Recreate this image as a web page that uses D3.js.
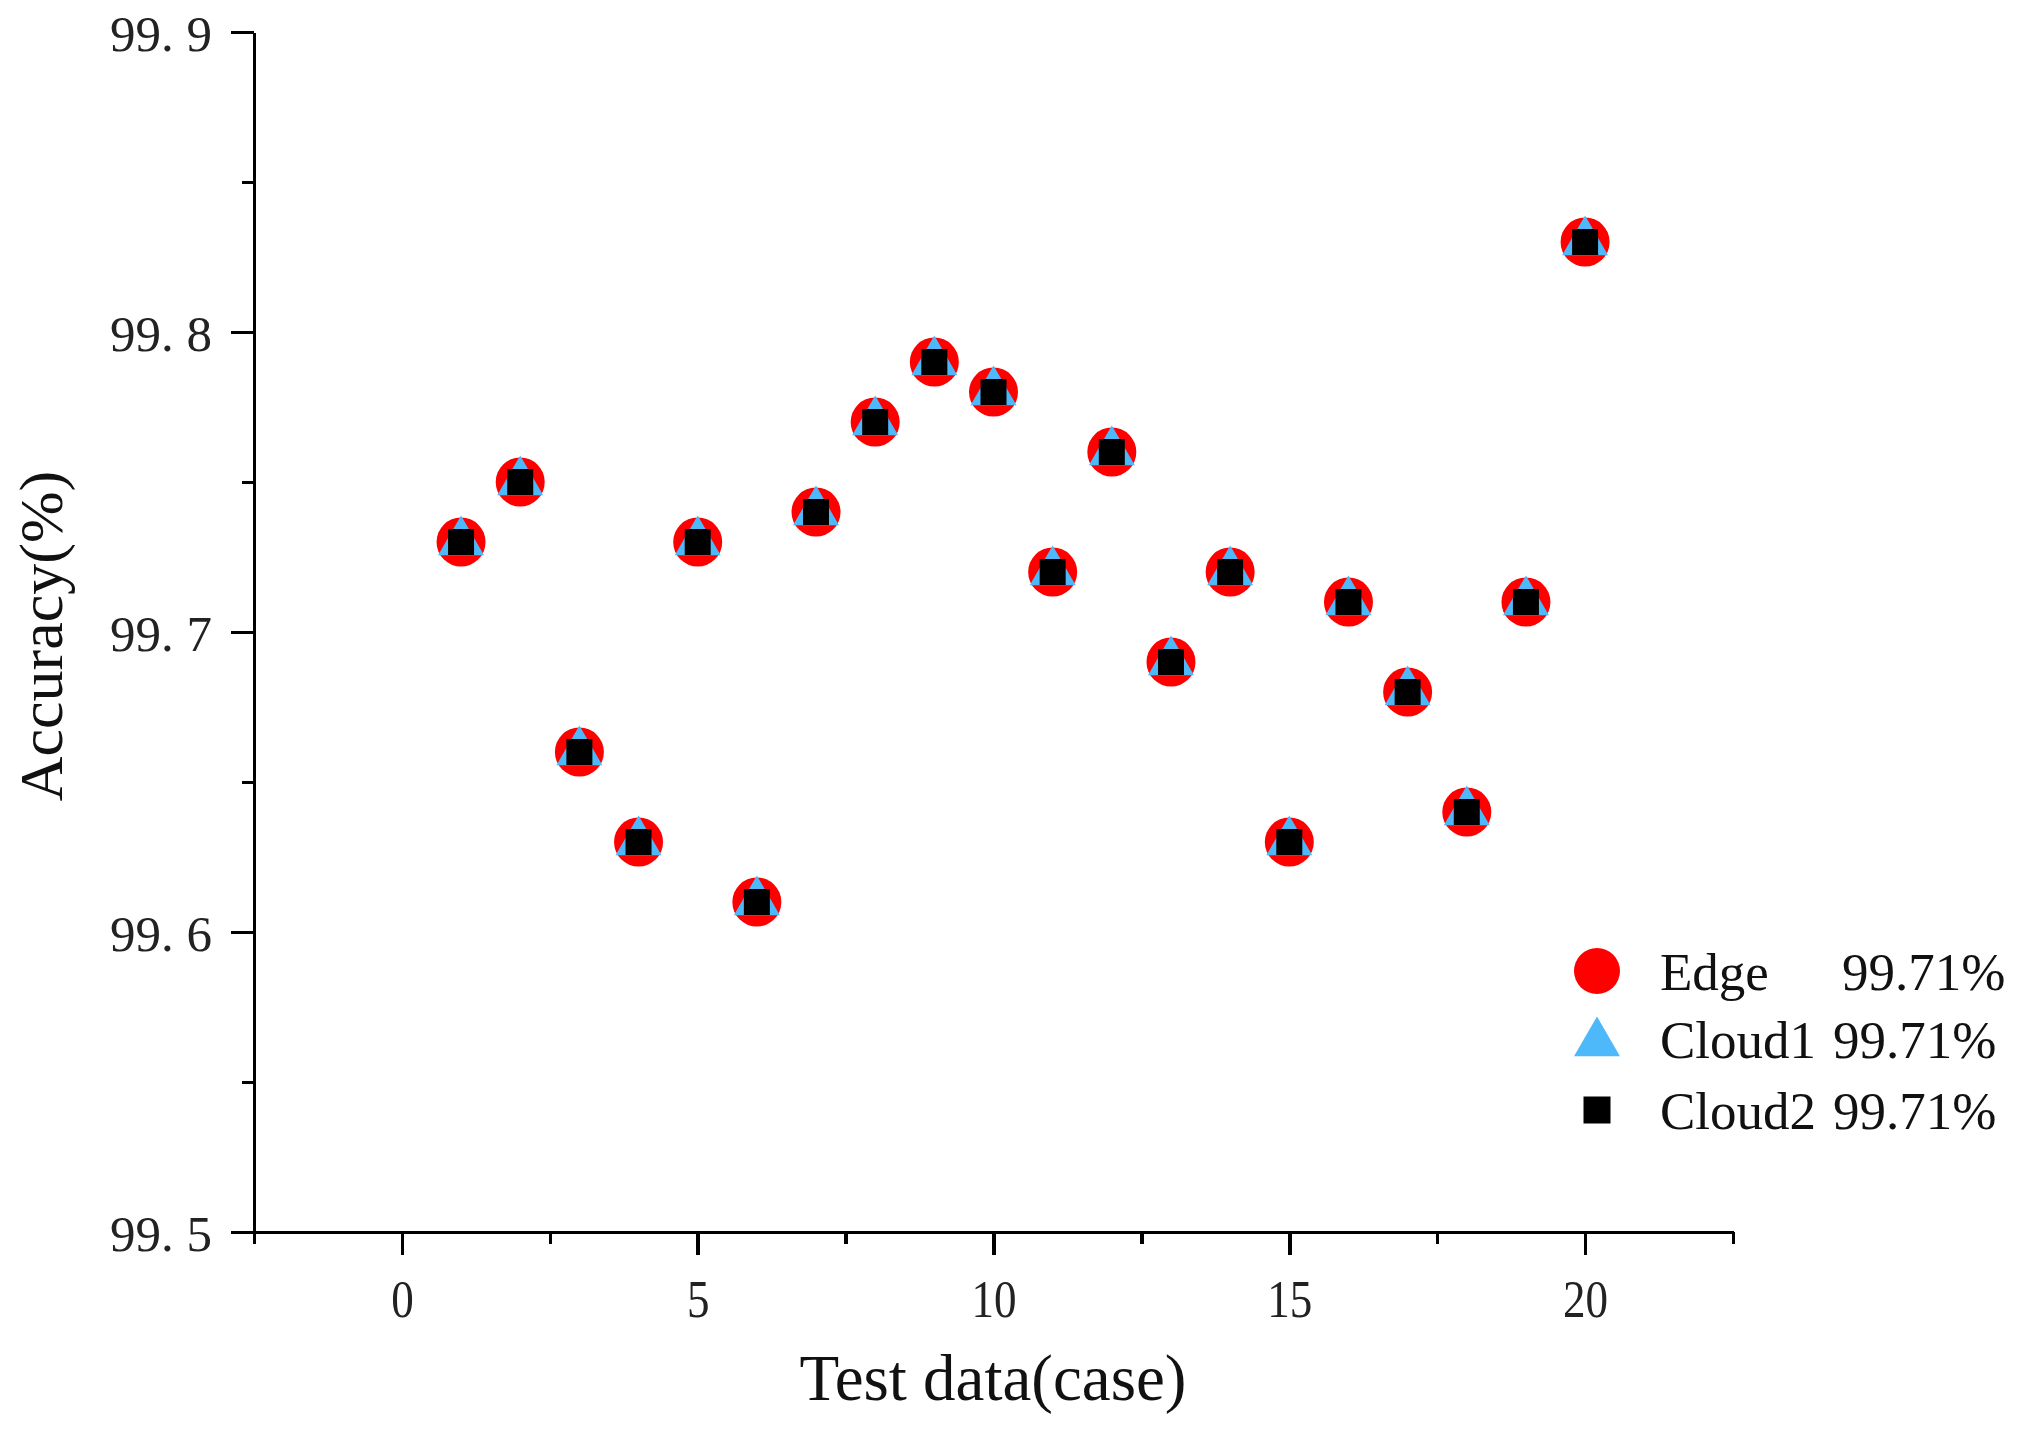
<!DOCTYPE html>
<html lang="en">
<head>
    <meta charset="UTF-8">
    <title>Accuracy per test case</title>
    <script src="https://d3js.org/d3.v7.min.js"></script>
    <style>
        body {
            margin: 0;
            background-color: white;
            font-family: "Liberation Serif", "DejaVu Serif", serif;
        }

        .axis path,
        .axis line {
            stroke: #000;
            stroke-width: 3.5;
            shape-rendering: crispEdges;
        }

        .axis text {
            fill: #222;
            font-family: "Liberation Serif", serif;
        }
    </style>
</head>
<body>
    <div id="chart"></div>

    <script>
        // Test cases and accuracy for each node (all three nodes give the same numbers)
        const cases = [1, 2, 3, 4, 5, 6, 7, 8, 9, 10, 11, 12, 13, 14, 15, 16, 17, 18, 19, 20];
        const edge = [99.73, 99.75, 99.66, 99.63, 99.73, 99.61, 99.74, 99.77, 99.79, 99.78,
                      99.72, 99.76, 99.69, 99.72, 99.63, 99.71, 99.68, 99.64, 99.71, 99.83];
        const cloud1 = [99.73, 99.75, 99.66, 99.63, 99.73, 99.61, 99.74, 99.77, 99.79, 99.78,
                        99.72, 99.76, 99.69, 99.72, 99.63, 99.71, 99.68, 99.64, 99.71, 99.83];
        const cloud2 = [99.73, 99.75, 99.66, 99.63, 99.73, 99.61, 99.74, 99.77, 99.79, 99.78,
                        99.72, 99.76, 99.69, 99.72, 99.63, 99.71, 99.68, 99.64, 99.71, 99.83];

        const seriesNames = ["Edge", "Cloud1", "Cloud2"];
        const seriesMeans = ["99.71%", "99.71%", "99.71%"];

        const xTicks = [0, 5, 10, 15, 20];
        const xMinorTicks = [-2.5, 2.5, 7.5, 12.5, 17.5, 22.5];
        const yTicks = [99.5, 99.6, 99.7, 99.8, 99.9];
        const yTickLabels = ["99. 5", "99. 6", "99. 7", "99. 8", "99. 9"];
        const yMinorTicks = [99.55, 99.65, 99.75, 99.85];

        const width = 2028;
        const height = 1429;

        const svg = d3.select("#chart").append("svg")
            .attr("width", width)
            .attr("height", height);

        // plot area in page pixels
        const plot = { left: 254, right: 1733, top: 32, bottom: 1232 };

        const x = d3.scaleLinear()
            .domain([-2.5, 22.5])
            .range([plot.left, plot.right]);

        const y = d3.scaleLinear()
            .domain([99.5, 99.9])
            .range([plot.bottom, plot.top]);

        // X axis: major + minor ticks
        const xAxis = svg.append("g")
            .attr("class", "axis")
            .attr("transform", `translate(0, ${plot.bottom})`)
            .call(d3.axisBottom(x).tickValues(xTicks).tickSize(23).tickSizeOuter(0).tickFormat(d3.format("d")));
        // the original digits are tall and narrow
        xAxis.selectAll("text")
            .attr("y", 85)
            .attr("dy", null)
            .attr("transform", "scale(0.85, 1)")
            .style("font-size", "53px");

        svg.append("g")
            .attr("class", "axis")
            .attr("transform", `translate(0, ${plot.bottom})`)
            .call(d3.axisBottom(x).tickValues(xMinorTicks).tickSize(12).tickSizeOuter(0).tickFormat(""))
            .select(".domain").remove();

        // Y axis
        const yAxis = svg.append("g")
            .attr("class", "axis")
            .attr("transform", `translate(${plot.left}, 0)`)
            .call(d3.axisLeft(y).tickValues(yTicks).tickSize(23).tickSizeOuter(0)
                .tickFormat((d, i) => yTickLabels[i]));
        yAxis.selectAll("text")
            .attr("x", -42)
            .attr("dy", "0.36em")
            .style("font-size", "51px")
            .style("white-space", "pre");

        svg.append("g")
            .attr("class", "axis")
            .attr("transform", `translate(${plot.left}, 0)`)
            .call(d3.axisLeft(y).tickValues(yMinorTicks).tickSize(12).tickSizeOuter(0).tickFormat(""))
            .select(".domain").remove();

        // Axis titles
        svg.append("text")
            .attr("x", 993)
            .attr("y", 1400)
            .attr("text-anchor", "middle")
            .style("font-size", "65px")
            .style("fill", "#111")
            .text("Test data(case)");

        svg.append("text")
            .attr("transform", "translate(62, 636) rotate(-90)")
            .attr("text-anchor", "middle")
            .style("font-size", "62px")
            .style("fill", "#111")
            .text("Accuracy(%)");

        // Markers, drawn in order circle -> triangle -> square
        const circle = d3.symbol().type(d3.symbolCircle).size(1886);
        const triangle = d3.symbol().type(d3.symbolTriangle).size(916);
        const square = d3.symbol().type(d3.symbolSquare).size(676);

        const series = [
            { values: edge, shape: circle, color: "#ff0000" },
            { values: cloud1, shape: triangle, color: "#4db8fa" },
            { values: cloud2, shape: square, color: "#000000" }
        ];

        series.forEach(s => {
            svg.append("g")
                .selectAll("path")
                .data(cases)
                .enter().append("path")
                .attr("transform", (d, i) => `translate(${x(d)}, ${y(s.values[i])})`)
                .attr("d", s.shape)
                .attr("fill", s.color);
        });

        // Legend
        const legend = svg.append("g").attr("transform", "translate(1597, 971)");
        const legendShapes = [
            d3.symbol().type(d3.symbolCircle).size(1662),
            d3.symbol().type(d3.symbolTriangle).size(916),
            d3.symbol().type(d3.symbolSquare).size(729)
        ];
        const legendOffsets = [0, 68, 139];
        const valueX = [245, 236, 236];

        seriesNames.forEach((name, i) => {
            const row = legend.append("g")
                .attr("transform", `translate(0, ${legendOffsets[i]})`);
            row.append("path")
                .attr("d", legendShapes[i])
                .attr("transform", i === 1 ? "translate(0, 4)" : null)
                .attr("fill", series[i].color);
            row.append("text")
                .attr("x", 63)
                .attr("y", 19)
                .style("font-size", "53px")
                .style("fill", "#111")
                .text(name);
            row.append("text")
                .attr("x", valueX[i])
                .attr("y", 19)
                .style("font-size", "53px")
                .style("fill", "#111")
                .text(seriesMeans[i]);
        });
    </script>
</body>
</html>
